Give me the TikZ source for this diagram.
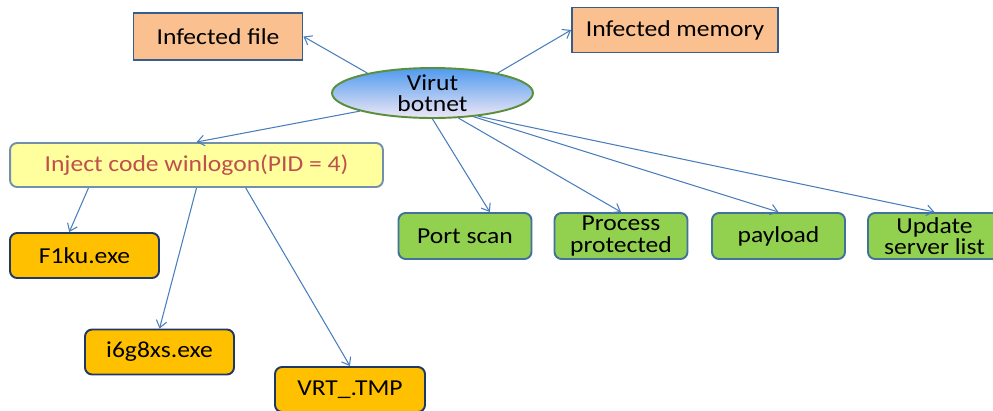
\documentclass[tikz,border=0pt]{standalone}
\usepackage{fontspec}
\setmainfont[FakeStretch=1.12]{Carlito}
\usetikzlibrary{arrows.meta,shapes.geometric}
\definecolor{linkblue}{HTML}{4A7EBB}
\definecolor{peach}{HTML}{FAC090}
\definecolor{slateblue}{HTML}{385D8A}
\definecolor{paleyellow}{HTML}{FFFF9E}
\definecolor{injectred}{HTML}{C0504D}
\definecolor{amber}{HTML}{FFC000}
\definecolor{navy}{HTML}{1F3864}
\definecolor{leaf}{HTML}{92D050}
\definecolor{steel}{HTML}{41719C}
\definecolor{skytop}{HTML}{4F9AEE}
\definecolor{skymid}{HTML}{8DBDF3}
\definecolor{lavender}{HTML}{F0E8F6}
\definecolor{botgreen}{HTML}{5A8F3C}

\tikzset{
  infbox/.style={draw=slateblue, fill=peach, line width=1.1pt, inner sep=0pt},
  injbox/.style={draw=slateblue!70, fill=paleyellow, line width=1.1pt, rounded corners=4pt,
    text=injectred, inner sep=0pt, minimum width=7.46cm, minimum height=0.88cm},
  filebox/.style={draw=navy, fill=amber, line width=1.1pt, rounded corners=4pt,
    inner sep=0pt, minimum width=2.98cm, minimum height=0.9cm},
  actbox/.style={draw=steel, fill=leaf, line width=1.1pt, rounded corners=4pt,
    inner sep=0pt, align=center, minimum width=2.66cm, minimum height=0.92cm},
  link/.style={->, draw=linkblue, line width=0.6pt}
}

\begin{document}
\begin{tikzpicture}[x=0.02cm, y=-0.02cm, >={Straight Barb[length=4pt,width=6pt]},
    font=\fontsize{13}{12}\selectfont]
    \useasboundingbox (0,0) rectangle (993,410);

    % Centre of the diagram
    \node[ellipse, draw=botgreen, line width=1.1pt, top color=skytop, middle color=skymid,
      bottom color=lavender, minimum width=4.02cm, minimum height=1.0cm, inner sep=0pt]
      (virut) at (432.5,93) {};
    \node[align=center, inner sep=0pt] (virutlabel) at (virut) {Virut\\botnet};

    % Infections
    \node[infbox, minimum width=3.38cm, minimum height=0.94cm] (file) at (218,36.5) {Infected file};
    \node[infbox, minimum width=4.12cm, minimum height=0.9cm] (memory) at (675,30) {Infected memory};

    % Injection and dropped files
    \node[injbox] (inject) at (196.5,165) {Inject code winlogon(PID = 4)};
    \node[filebox] (f1ku) at (84.5,255.5) {F1ku.exe};
    \node[filebox] (i6g8xs) at (159.5,352) {i6g8xs.exe};
    \node[filebox, minimum width=3.0cm] (vrt) at (350,389.5) {VRT\_.TMP};

    % Actions
    \node[actbox] (portscan) at (465,236) {Port scan};
    \node[actbox] (protect) at (621,236) {Process\\protected};
    \node[actbox] (payload) at (778.5,236) {payload};
    \node[actbox] (update) at (934.5,236) {Update\\server list};

    % Arrows
    \draw[link] (virut.163) -- (file.east);
    \draw[link] (virut.17) -- (memory.west);
    \draw[link] (virut.194) -- (inject.north);
    \draw[link] (virut.270) -- (portscan.44);
    \draw[link] (virut.316) -- (protect.north);
    \draw[link] (virut.330) -- (payload.north);
    \draw[link] (virut.333) -- (update.north);

    \draw[link] (inject.192) -- (f1ku.123);
    \draw[link] (inject.south) -- (i6g8xs.north);
    \draw[link] (inject.335) -- (vrt.north);
\end{tikzpicture}
\end{document}
